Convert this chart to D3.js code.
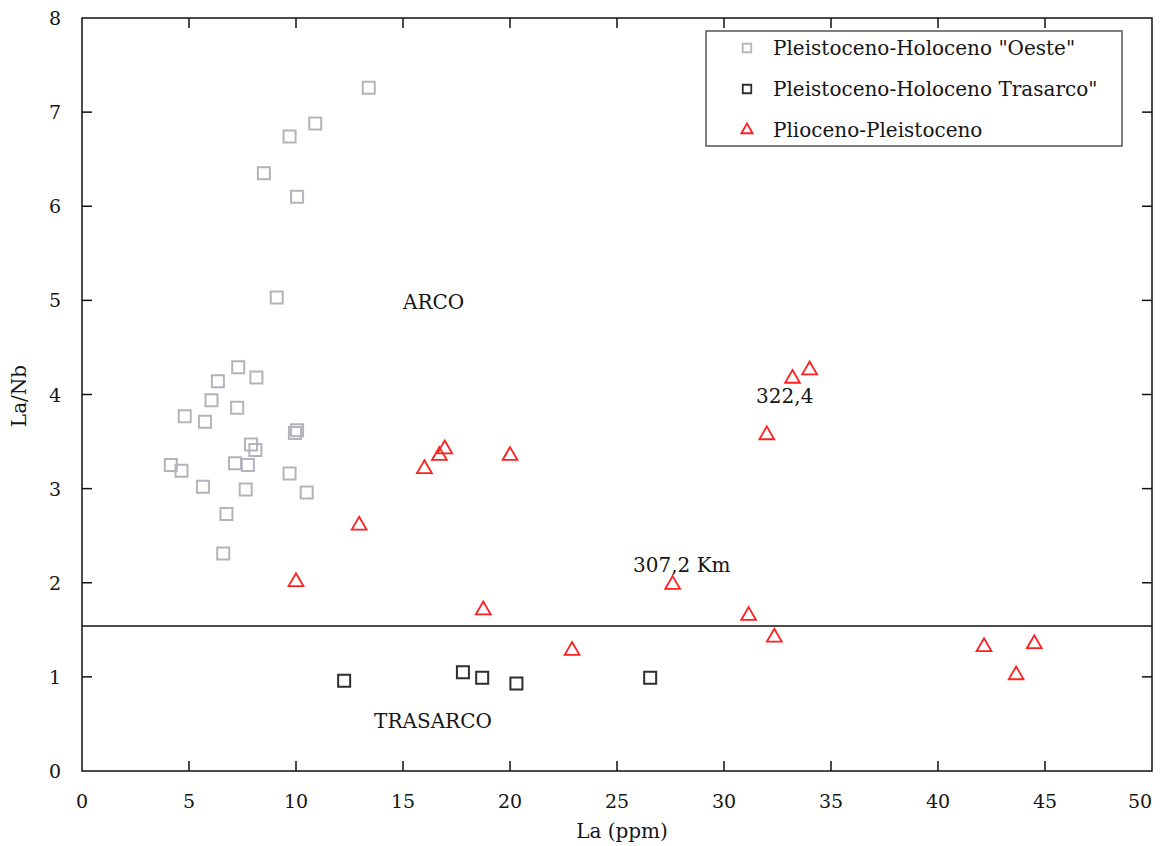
<!DOCTYPE html>
<html>
<head>
<meta charset="utf-8">
<script src="https://cdn.jsdelivr.net/npm/d3@7"></script>
<style>
  html, body { margin: 0; padding: 0; background: #fff; }
  svg text { font-family: "DejaVu Serif", "Liberation Serif", serif; fill: #151515; }
</style>
</head>
<body>
<svg id="chart" width="1167" height="846"></svg>
<script>
// Pleistoceno-Holoceno "Oeste": [La ppm, La/Nb]
const oesteLa = [13.4, 10.9, 9.7, 8.5, 10.05, 9.1, 7.3, 8.15, 6.35, 6.05, 7.25, 4.8, 5.75, 10.05, 9.95, 7.9, 8.1, 4.15, 7.15, 7.75, 4.65, 9.7, 5.65, 7.65, 10.5, 6.75, 6.6];
const oesteRatio = [7.26, 6.88, 6.74, 6.35, 6.10, 5.03, 4.29, 4.18, 4.14, 3.94, 3.86, 3.77, 3.71, 3.62, 3.59, 3.47, 3.41, 3.25, 3.27, 3.25, 3.19, 3.16, 3.02, 2.99, 2.96, 2.73, 2.31];

// Pleistoceno-Holoceno Trasarco
const trasLa = [12.25, 17.8, 18.7, 20.3, 26.55];
const trasRatio = [0.96, 1.05, 0.99, 0.93, 0.99];

// Plioceno-Pleistoceno
const plioLa = [16.95, 16.7, 16.0, 20.0, 12.95, 10.0, 18.75, 22.9, 34.0, 33.2, 32.0, 27.6, 31.15, 32.35, 42.15, 44.5, 43.65];
const plioRatio = [3.42, 3.35, 3.21, 3.35, 2.61, 2.01, 1.71, 1.28, 4.26, 4.17, 3.57, 1.98, 1.65, 1.42, 1.32, 1.35, 1.02];

// boundary between arc and back-arc fields
const boundaryRatio = 1.54;

const xTicks = [0, 5, 10, 15, 20, 25, 30, 35, 40, 45, 50];
const yTicks = [0, 1, 2, 3, 4, 5, 6, 7, 8];

const seriesNames = ['Pleistoceno-Holoceno "Oeste"', 'Pleistoceno-Holoceno Trasarco"', 'Plioceno-Pleistoceno'];

const annotations = [
  { text: "ARCO", x: 15.0, y: 4.98 },
  { text: "TRASARCO", x: 13.65, y: 0.53 },
  { text: "322,4", x: 31.5, y: 3.98 },
  { text: "307,2 Km", x: 25.75, y: 2.19 }
];

const svg = d3.select("#chart");
const m = { left: 82, right: 1152, top: 18, bottom: 771 };

const x = d3.scaleLinear().domain([0, 50]).range([m.left, m.right]);
const y = d3.scaleLinear().domain([0, 8]).range([m.bottom, m.top]);

const grayCol = "#b3b3bd", darkCol = "#2e2e2e", redCol = "#ff1f1f";
const tickLen = 10;

// frame
svg.append("rect")
  .attr("x", m.left).attr("y", m.top)
  .attr("width", m.right - m.left).attr("height", m.bottom - m.top)
  .attr("fill", "none").attr("stroke", "#111").attr("stroke-width", 1.5);

// inward ticks on all four sides
const tickG = svg.append("g").attr("stroke", "#111").attr("stroke-width", 1.5);
xTicks.slice(1, -1).forEach(t => {
  tickG.append("line").attr("x1", x(t)).attr("x2", x(t)).attr("y1", m.bottom).attr("y2", m.bottom - tickLen);
  tickG.append("line").attr("x1", x(t)).attr("x2", x(t)).attr("y1", m.top).attr("y2", m.top + tickLen);
});
yTicks.slice(1, -1).forEach(t => {
  tickG.append("line").attr("y1", y(t)).attr("y2", y(t)).attr("x1", m.left).attr("x2", m.left + tickLen);
  tickG.append("line").attr("y1", y(t)).attr("y2", y(t)).attr("x1", m.right).attr("x2", m.right - tickLen);
});

// tick labels
svg.append("g").selectAll("text").data(xTicks).join("text")
  .attr("x", d => x(d) + (d === 50 ? -12 : 0))
  .attr("y", 808)
  .attr("text-anchor", "middle")
  .attr("font-size", 19)
  .text(d => d);
svg.append("g").selectAll("text").data(yTicks).join("text")
  .attr("x", 61)
  .attr("y", d => y(d) + 7)
  .attr("text-anchor", "end")
  .attr("font-size", 19)
  .text(d => d);

// axis titles
svg.append("text").attr("x", 622).attr("y", 838).attr("text-anchor", "middle")
  .attr("font-size", 20).text("La (ppm)");
svg.append("text").attr("transform", "translate(26,396) rotate(-90)").attr("text-anchor", "middle")
  .attr("font-size", 20).text("La/Nb");

// boundary line
svg.append("line")
  .attr("x1", x(0)).attr("x2", x(50))
  .attr("y1", y(boundaryRatio)).attr("y2", y(boundaryRatio))
  .attr("stroke", "#111").attr("stroke-width", 1.5);

const square = d3.symbol().type(d3.symbolSquare).size(144);
const tri = d3.symbol().type(d3.symbolTriangle).size(95);

const pts = (xs, ys) => xs.map((v, i) => [v, ys[i]]);

svg.append("g").selectAll("path").data(pts(oesteLa, oesteRatio)).join("path")
  .attr("d", square).attr("transform", d => `translate(${x(d[0])},${y(d[1])})`)
  .attr("fill", "none").attr("stroke", grayCol).attr("stroke-width", 2);

svg.append("g").selectAll("path").data(pts(trasLa, trasRatio)).join("path")
  .attr("d", square).attr("transform", d => `translate(${x(d[0])},${y(d[1])})`)
  .attr("fill", "none").attr("stroke", darkCol).attr("stroke-width", 2);

svg.append("g").selectAll("path").data(pts(plioLa, plioRatio)).join("path")
  .attr("d", tri).attr("transform", d => `translate(${x(d[0])},${y(d[1])})`)
  .attr("fill", "none").attr("stroke", redCol).attr("stroke-width", 1.8);

// annotations
svg.append("g").selectAll("text").data(annotations).join("text")
  .attr("x", d => x(d.x)).attr("y", d => y(d.y) + 7)
  .attr("font-size", 20)
  .text(d => d.text);

// legend
const lg = svg.append("g");
lg.append("rect").attr("x", 706).attr("y", 31).attr("width", 416).attr("height", 115)
  .attr("fill", "#fff").attr("stroke", "#555").attr("stroke-width", 1.5);
const legendRows = [
  { name: seriesNames[0], sym: d3.symbol().type(d3.symbolSquare).size(72), col: grayCol },
  { name: seriesNames[1], sym: d3.symbol().type(d3.symbolSquare).size(72), col: darkCol },
  { name: seriesNames[2], sym: d3.symbol().type(d3.symbolTriangle).size(55), col: redCol }
];
legendRows.forEach((r, i) => {
  const cy = 48 + i * 41;
  lg.append("path").attr("d", r.sym()).attr("transform", `translate(747,${cy})`)
    .attr("fill", "none").attr("stroke", r.col).attr("stroke-width", 1.8);
  lg.append("text").attr("x", 773).attr("y", cy + 7).attr("font-size", 20).text(r.name);
});
</script>
</body>
</html>
